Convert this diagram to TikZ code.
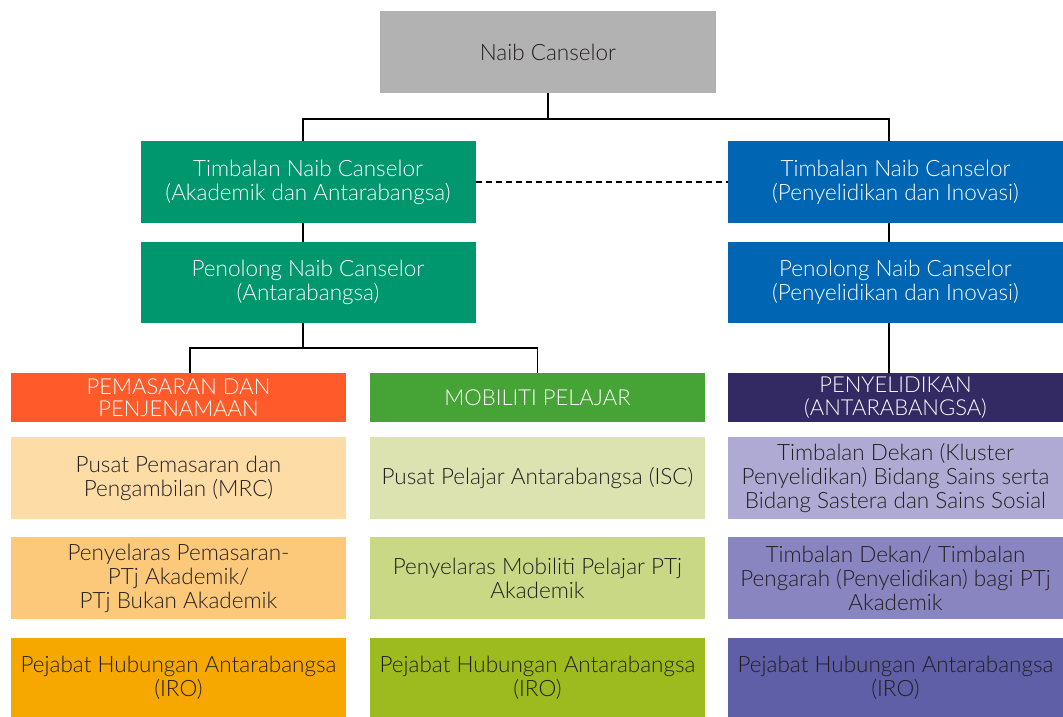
\documentclass[tikz,border=0pt]{standalone}
\usepackage{fontspec}
\setmainfont{Lato}[UprightFont={* Light}]
\definecolor{cgray}{HTML}{B2B2B2}
\definecolor{cgreen}{HTML}{00966E}
\definecolor{cblue}{HTML}{0066B3}
\definecolor{horange}{HTML}{FF5A2A}
\definecolor{hgreen}{HTML}{46A335}
\definecolor{hpurple}{HTML}{332A64}
\definecolor{oA}{HTML}{FDDCA6}
\definecolor{oB}{HTML}{FCC97A}
\definecolor{oC}{HTML}{F7A800}
\definecolor{gA}{HTML}{DCE3B1}
\definecolor{gB}{HTML}{C9D884}
\definecolor{gC}{HTML}{9DBB1F}
\definecolor{pA}{HTML}{AEAAD4}
\definecolor{pB}{HTML}{8985C0}
\definecolor{pC}{HTML}{5E5FA6}
\definecolor{txt}{HTML}{231F20}
\tikzset{
  box/.style={rectangle, inner sep=0pt, align=center, text=txt,
    font=\fontsize{22.5}{24}\selectfont},
  big/.style={box, minimum width=335pt, minimum height=82pt},
  head/.style={box, minimum width=335pt, minimum height=49pt, text=white,
    font=\fontsize{22}{22.5}\selectfont},
  row/.style={box, minimum width=335pt, minimum height=82pt},
  lastrow/.style={box, minimum width=335pt, minimum height=79pt},
  conn/.style={draw=black, line width=1.6pt},
}
\begin{document}
\begin{tikzpicture}[x=1pt,y=-1pt]
\useasboundingbox (0,0) rectangle (1063,717);
\fill[white] (0,0) rectangle (1063,717);
% top
\node[big, fill=cgray, minimum width=336pt] (nc) at (548,52) {Naib Canselor};
\node[big, fill=cgreen, text=white] (tl) at (308,182) {Timbalan Naib Canselor\\(Akademik dan Antarabangsa)};
\node[big, fill=cblue, text=white] (tr) at (895.5,182) {Timbalan Naib Canselor\\(Penyelidikan dan Inovasi)};
\node[big, fill=cgreen, text=white, minimum height=81pt] (pl) at (308,282.5) {Penolong Naib Canselor\\(Antarabangsa)};
\node[big, fill=cblue, text=white, minimum height=81pt] (pr) at (895.5,282.5) {Penolong Naib Canselor\\(Penyelidikan dan Inovasi)};
% headers
\node[head, fill=horange] (h1) at (178.5,397.5) {PEMASARAN DAN\\PENJENAMAAN};
\node[head, fill=hgreen] (h2) at (537.5,397.5) {MOBILITI PELAJAR};
\node[head, fill=hpurple] (h3) at (895.5,397.5) {PENYELIDIKAN\\(ANTARABANGSA)};
% rows
\node[row, fill=oA] (a1) at (178.5,478) {Pusat Pemasaran dan\\Pengambilan (MRC)};
\node[row, fill=oB] (a2) at (178.5,578) {Penyelaras Pemasaran-\\PTj Akademik/\\PTj Bukan Akademik};
\node[lastrow, fill=oC] (a3) at (178.5,677.5) {Pejabat Hubungan Antarabangsa\\(IRO)};
\node[row, fill=gA] (b1) at (537.5,478) {Pusat Pelajar Antarabangsa (ISC)};
\node[row, fill=gB] (b2) at (537.5,578) {Penyelaras Mobiliti Pelajar PTj\\Akademik};
\node[lastrow, fill=gC] (b3) at (537.5,677.5) {Pejabat Hubungan Antarabangsa\\(IRO)};
\node[row, fill=pA] (c1) at (895.5,478) {Timbalan Dekan (Kluster\\Penyelidikan) Bidang Sains serta\\Bidang Sastera dan Sains Sosial};
\node[row, fill=pB] (c2) at (895.5,578) {Timbalan Dekan/ Timbalan\\Pengarah (Penyelidikan) bagi PTj\\Akademik};
\node[lastrow, fill=pC] (c3) at (895.5,677.5) {Pejabat Hubungan Antarabangsa\\(IRO)};
% connectors
\coordinate (j1) at (548,119);
\coordinate (tlx) at (303,0);
\coordinate (trx) at (889,0);
\draw[conn] (nc.south) -- (j1);
\draw[conn] (j1) -| (tlx |- tl.north);
\draw[conn] (j1) -| (trx |- tr.north);
\draw[conn] (tlx |- tl.south) -- (tlx |- pl.north);
\draw[conn] (trx |- tr.south) -- (trx |- pr.north);
\draw[conn, dashed, dash pattern=on 6pt off 4pt] (tl.east) -- (tr.west);
\coordinate (j2) at (303,348);
\coordinate (h1x) at (190,0);
\draw[conn] (tlx |- pl.south) -- (j2);
\draw[conn] (j2) -| (h1x |- h1.north);
\draw[conn] (j2) -| (h2.north);
\draw[conn] (trx |- pr.south) -- (trx |- h3.north);
\end{tikzpicture}
\end{document}
